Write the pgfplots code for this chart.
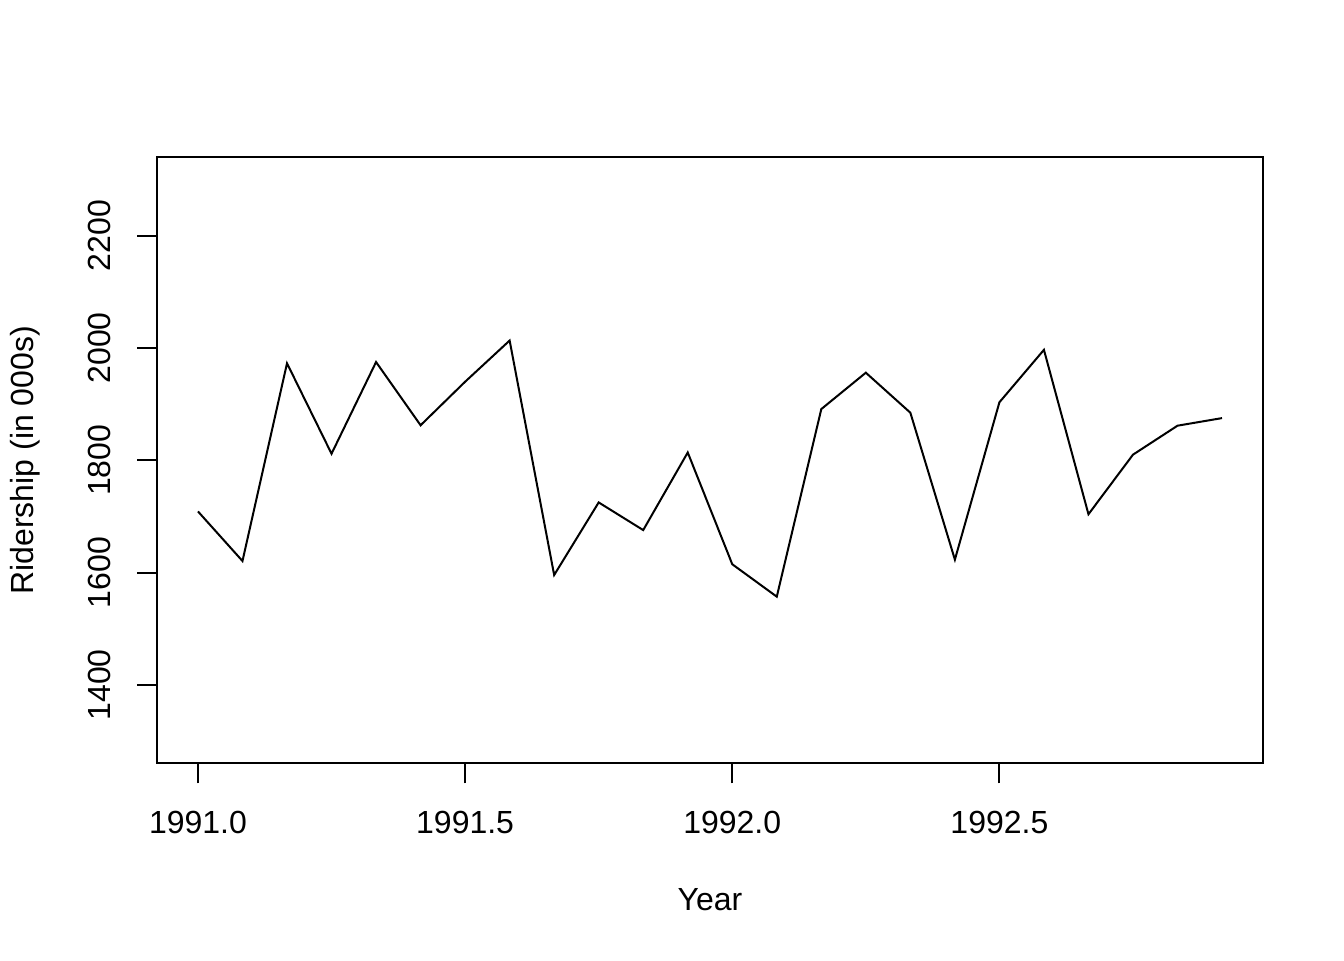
\documentclass[border=0pt]{standalone}
\usepackage{pgfplots}
\pgfplotsset{compat=1.18}
\usepackage{fontspec}
\setmainfont{Liberation Sans}
\begin{document}
\begin{tikzpicture}
\path[use as bounding box] (-58.875pt,-73.7pt) rectangle (445.125pt,286.3pt);
\begin{axis}[
  at={(0,0)}, anchor=south west,
  scale only axis, width=414.75pt, height=227.4pt,
  xmin=1990.92333, xmax=1992.99333,
  ymin=1260, ymax=2340,
  axis line style={line width=0.75pt},
  tick style={line width=0.75pt, black},
  tick align=outside, tick pos=left,
  major tick length=7.5pt,
  xtick={1991,1991.5,1992,1992.5},
  ytick={1400,1600,1800,2000,2200},
  /pgf/number format/assume math mode=true,
  xticklabel={\pgfmathprintnumber[fixed,precision=1,zerofill,1000 sep={}]{\tick}},
  yticklabel={\pgfmathprintnumber[fixed,precision=0,1000 sep={}]{\tick}},
  xticklabel style={anchor=center, yshift=-14.6pt, font=\fontsize{12}{14}\selectfont},
  yticklabel style={xshift=-13.9pt, rotate=90, anchor=center, font=\fontsize{12}{14}\selectfont},
  every axis x label/.style={at={(axis description cs:0.5,0)}, anchor=center, yshift=-51pt, font=\fontsize{12}{14}\selectfont},
  every axis y label/.style={at={(axis description cs:0,0.5)}, anchor=center, xshift=-49.5pt, rotate=90, font=\fontsize{12}{14}\selectfont},
  xlabel={Year},
  ylabel={Ridership (in 000s)},
  clip=false,
]
\addplot[black, line width=0.75pt] coordinates {
(1991.00000,1708.917)
(1991.08333,1620.586)
(1991.16667,1972.715)
(1991.25000,1811.665)
(1991.33333,1974.964)
(1991.41667,1862.356)
(1991.50000,1939.860)
(1991.58333,2013.264)
(1991.66667,1595.657)
(1991.75000,1724.924)
(1991.83333,1675.667)
(1991.91667,1813.863)
(1992.00000,1614.827)
(1992.08333,1557.088)
(1992.16667,1891.223)
(1992.25000,1955.981)
(1992.33333,1884.714)
(1992.41667,1623.042)
(1992.50000,1903.309)
(1992.58333,1996.712)
(1992.66667,1703.897)
(1992.75000,1810.000)
(1992.83333,1861.601)
(1992.91667,1875.122)
};
\end{axis}
\end{tikzpicture}
\end{document}
